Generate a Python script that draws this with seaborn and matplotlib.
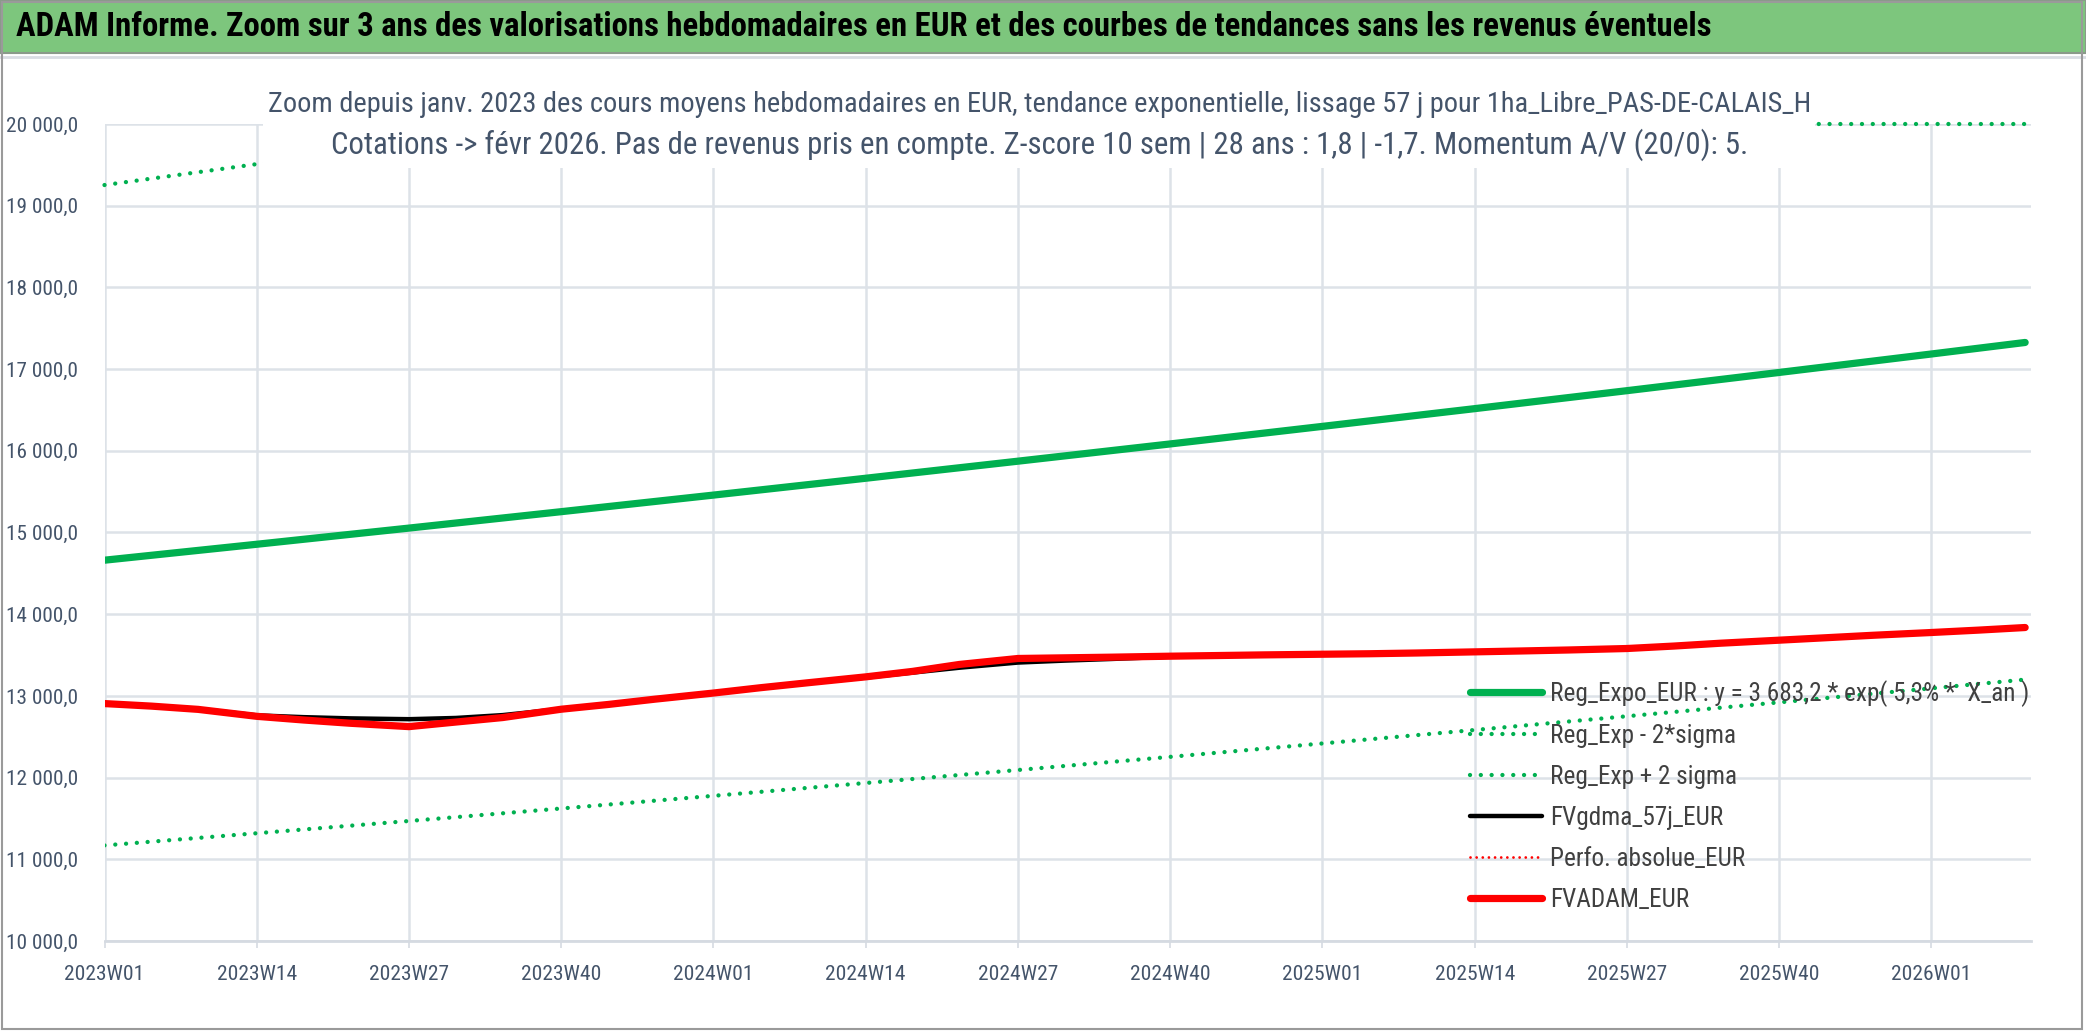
import os
import matplotlib
matplotlib.use("Agg")
import matplotlib.pyplot as plt
import seaborn as sns
from matplotlib.lines import Line2D
from matplotlib.patches import Rectangle
from matplotlib.ticker import FuncFormatter
from matplotlib import font_manager

# index de semaine : 0 = 2023W01
tick_weeks = [0, 13, 26, 39, 52, 65, 78, 91, 104, 117, 130, 143, 156]
tick_labels = ["2023W01", "2023W14", "2023W27", "2023W40", "2024W01", "2024W14", "2024W27",
               "2024W40", "2025W01", "2025W14", "2025W27", "2025W40", "2026W01"]

# courbes de tendance
trend_weeks = [0, 13, 26, 39, 52, 65, 78, 91, 104, 117, 130, 143, 156, 164]
reg_expo = [14661, 14856, 15054, 15255, 15458, 15664, 15873, 16084, 16299, 16516, 16736, 16959, 17185, 17326]
reg_minus = [11170, 11319, 11469, 11622, 11777, 11934, 12093, 12254, 12418, 12583, 12751, 12921, 13093, 13200]
reg_plus = [19253, 19509, 19769, 20000, 20000, 20000, 20000, 20000, 20000, 20000, 20000, 20000, 20000, 20000]

# valorisations
fv_weeks = [0, 4, 8, 13, 17, 21, 26, 30, 34, 39, 43, 47, 52, 56, 60, 65, 69, 73, 78, 82, 86, 91, 95, 99,
            104, 108, 112, 117, 121, 125, 130, 134, 138, 143, 147, 151, 156, 160, 164]
fvadam = [12906, 12875, 12835, 12750, 12705, 12665, 12624, 12680, 12735, 12837, 12895, 12960, 13035, 13100,
          13160, 13233, 13300, 13385, 13458, 13466, 13474, 13486, 13494, 13502, 13510, 13516, 13525, 13539,
          13550, 13562, 13580, 13610, 13645, 13682, 13712, 13742, 13776, 13805, 13837]
fvgdma = [12906, 12875, 12840, 12762, 12740, 12725, 12715, 12730, 12765, 12840, 12895, 12960, 13035, 13095,
          13155, 13225, 13285, 13345, 13408, 13432, 13452, 13480, 13492, 13500, 13510, 13516, 13525, 13539,
          13550, 13562, 13580, 13610, 13645, 13682, 13712, 13742, 13776, 13805, 13837]

header = ("ADAM Informe. Zoom sur 3 ans des valorisations hebdomadaires en EUR "
          "et des courbes de tendances sans les revenus éventuels")
sub1 = ("Zoom depuis janv. 2023 des cours moyens hebdomadaires en EUR, tendance exponentielle, "
        "lissage 57 j pour 1ha_Libre_PAS-DE-CALAIS_H")
sub2 = ("Cotations -> févr 2026. Pas de revenus pris en compte. Z-score 10 sem | 28 ans : 1,8 | -1,7. "
        "Momentum A/V (20/0): 5.")
leg_expo = "Reg_Expo_EUR : y = 3 683,2 * exp( 5,3% *  X_an )"

sns.set_theme(style="white")

# police étroite (type Calibri) si disponible
pref = ["liberationsansnarrow", "robotocondensed", "opensans", "notosans", "dejavusans"]
cands = []
for f in font_manager.fontManager.ttflist:
    fn = os.path.basename(f.fname).lower().replace("-", "").replace("_", "")
    if ("narrow" in fn or "condensed" in fn) and "italic" not in fn and "oblique" not in fn:
        rank = next((i for i, p in enumerate(pref) if fn.startswith(p)), len(pref))
        cands.append((rank, f))
if cands:
    cands.sort(key=lambda c: c[0])
    best = cands[0][1]
    plt.rcParams["font.family"] = [best.name, "DejaVu Sans"]
    plt.rcParams["font.stretch"] = best.stretch
else:
    plt.rcParams["font.family"] = ["Liberation Sans", "DejaVu Sans"]

W, H = 2086, 1031
fig = plt.figure(figsize=(W / 100, H / 100), dpi=100)
fig.patch.set_facecolor("white")
renderer = fig.canvas.get_renderer()


def size_for(s, target_px, weight="normal"):
    t = fig.text(0, 0, s, fontsize=20, fontweight=weight)
    w = t.get_window_extent(renderer=renderer).width
    t.remove()
    return 20 * target_px / w


xt_size = size_for("2023W01", 80)
yt_size = size_for("10 000,0", 72)
leg_size = size_for(leg_expo, 479)
head_size = size_for(header, 1693, "bold")
sub1_size = size_for(sub1, 1541)
sub2_size = size_for(sub2, 1415)

ax = fig.add_axes([104.5 / W, 1 - 941 / H, (2031 - 104.5) / W, (941 - 124) / H])

green = "#00B050"
dots = (0, (0.01, 2.5))
sns.lineplot(x=trend_weeks, y=reg_expo, ax=ax, color=green, lw=5.2, label=leg_expo)
sns.lineplot(x=trend_weeks, y=reg_minus, ax=ax, color=green, lw=3.1, linestyle=dots,
             dash_capstyle="round", label="Reg_Exp - 2*sigma")
sns.lineplot(x=trend_weeks, y=reg_plus, ax=ax, color=green, lw=3.1, linestyle=dots,
             dash_capstyle="round", clip_on=False, label="Reg_Exp + 2 sigma")
sns.lineplot(x=fv_weeks, y=fvgdma, ax=ax, color="black", lw=3.2, label="FVgdma_57j_EUR")
sns.lineplot(x=fv_weeks, y=fvadam, ax=ax, color="#FF0000", lw=5.2, label="FVADAM_EUR")

ax.set_xlim(0, 164.5)
ax.set_ylim(10000, 20000)
ax.set_yticks(range(10000, 20001, 1000))
ax.yaxis.set_major_formatter(FuncFormatter(lambda v, p: f"{v:,.1f}".replace(",", " ").replace(".", ",")))
ax.set_xticks(tick_weeks)
ax.set_xticklabels(tick_labels)
ax.set_xlabel("")
ax.set_ylabel("")
ax.grid(True, color="#DDE2E8", lw=1.8)
ax.set_axisbelow(True)
for s in ["top", "right", "left"]:
    ax.spines[s].set_visible(False)
ax.spines["bottom"].set_color("#D5DAE1")
ax.spines["bottom"].set_linewidth(2)
ax.tick_params(axis="x", bottom=True, length=5, width=1.2, color="#D5DAE1", pad=12,
               labelsize=xt_size, labelcolor="#44546A")
ax.tick_params(axis="y", left=False, pad=13, labelsize=yt_size, labelcolor="#44546A")

handles, labels = ax.get_legend_handles_labels()
perfo = Line2D([], [], color="#FF0000", lw=2, linestyle=(0, (0.01, 2.2)), dash_capstyle="round")
handles.insert(4, perfo)
labels.insert(4, "Perfo. absolue_EUR")
spacing = 34.0 / leg_size - 1.2
ax.legend(handles, labels, loc="upper left", bbox_to_anchor=(1470 / W, 1 - 680 / H),
          bbox_transform=fig.transFigure, frameon=False, fontsize=leg_size,
          handlelength=52 / leg_size, handletextpad=0.3, labelspacing=spacing,
          borderpad=0, borderaxespad=0, labelcolor="#404040")

# bandeau vert
fig.patches.append(Rectangle((0, 1 - 53 / H), 1, 53 / H, transform=fig.transFigure,
                             facecolor="#7DC67D", edgecolor="#8A9A8A", lw=1.5, zorder=3))
fig.lines.append(Line2D([0, 1], [1 - 57 / H, 1 - 57 / H], transform=fig.transFigure,
                        color="#D9DDE3", lw=2, zorder=3))
fig.text(16 / W, 1 - 27 / H, header, ha="left", va="center", fontsize=head_size,
         fontweight="bold", color="black", zorder=4)

# cadre du sous-titre
fig.patches.append(Rectangle((263 / W, 1 - 168 / H), (1815 - 263) / W, (168 - 60) / H,
                             transform=fig.transFigure, facecolor="white", edgecolor="none", zorder=3))
fig.text(1040 / W, 1 - 104 / H, sub1, ha="center", va="center", fontsize=sub1_size,
         color="#44546A", zorder=4)
fig.text(1040 / W, 1 - 145 / H, sub2, ha="center", va="center", fontsize=sub2_size,
         color="#44546A", zorder=4)

# cadre général
fig.patches.append(Rectangle((0.0008, 0.0015), 0.9975, 0.997, transform=fig.transFigure,
                             facecolor="none", edgecolor="#9A9A9A", lw=1.5, zorder=5))

fig.savefig("out.png", dpi=100)
